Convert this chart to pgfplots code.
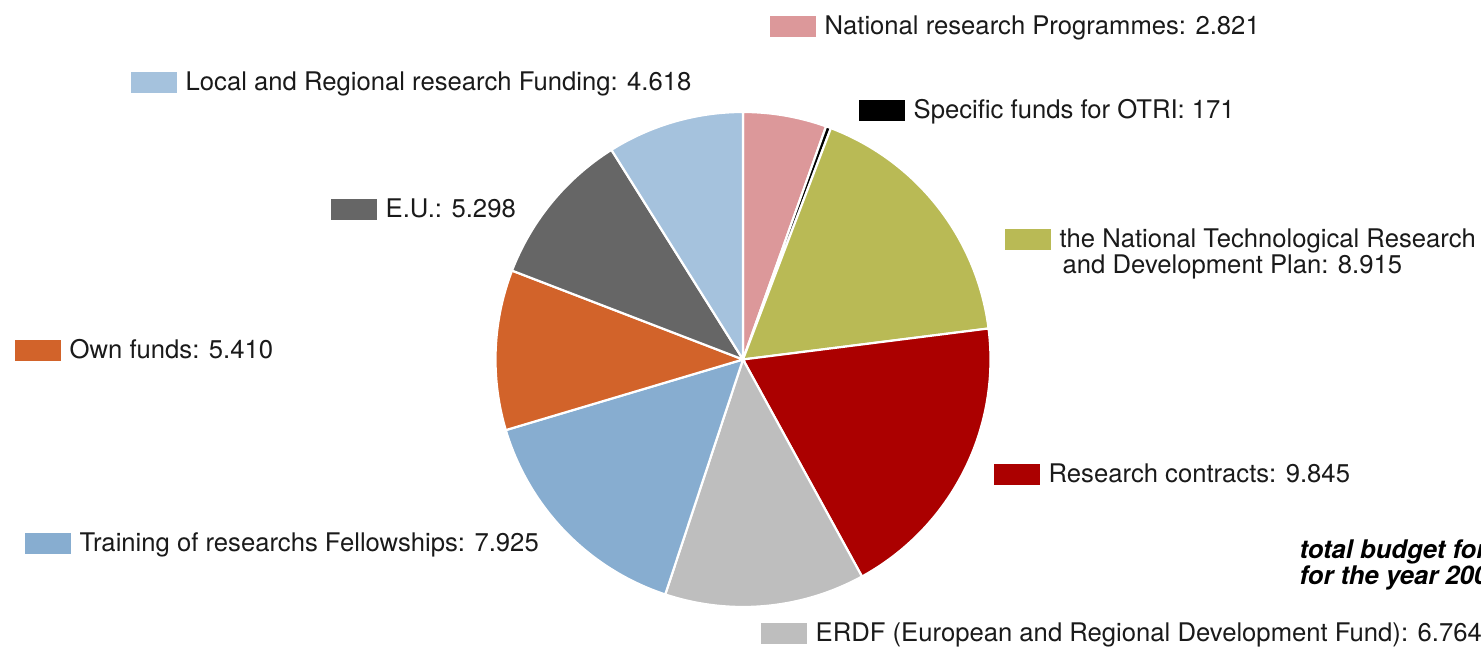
\documentclass[border=0pt]{standalone}
\usepackage{pgfplots}
\pgfplotsset{compat=1.18}
\usepackage{fontspec}
\setmainfont{TeX Gyre Heros}
\definecolor{cNRP}{HTML}{DC989A}
\definecolor{cOTRI}{HTML}{000000}
\definecolor{cPN}{HTML}{B9BA55}
\definecolor{cRC}{HTML}{AB0000}
\definecolor{cERDF}{HTML}{BEBEBE}
\definecolor{cTRF}{HTML}{87ADD0}
\definecolor{cOWN}{HTML}{D2632A}
\definecolor{cEU}{HTML}{666666}
\definecolor{cLRF}{HTML}{A5C2DD}
\definecolor{txt}{HTML}{1A1A1A}
% values (thousands)
\def\vNRP{2.821}\def\vOTRI{0.171}\def\vPN{8.915}\def\vRC{9.845}\def\vERDF{6.764}
\def\vTRF{7.925}\def\vOWN{5.410}\def\vEU{5.298}\def\vLRF{4.618}
\pgfmathsetmacro\tot{\vNRP+\vOTRI+\vPN+\vRC+\vERDF+\vTRF+\vOWN+\vEU+\vLRF}
\pgfmathsetmacro\cA{0}
\pgfmathsetmacro\cB{\cA+\vNRP}
\pgfmathsetmacro\cC{\cB+\vOTRI}
\pgfmathsetmacro\cD{\cC+\vPN}
\pgfmathsetmacro\cE{\cD+\vRC}
\pgfmathsetmacro\cF{\cE+\vERDF}
\pgfmathsetmacro\cG{\cF+\vTRF}
\pgfmathsetmacro\cH{\cG+\vOWN}
\pgfmathsetmacro\cI{\cH+\vEU}
\pgfmathsetmacro\cJ{\cI+\vLRF}
\foreach \k in {A,B,C,D,E,F,G,H,I,J}{%
  \pgfmathsetmacro\tmp{90-360*(\csname c\k\endcsname/\tot)}%
  \global\expandafter\let\csname a\k\endcsname\tmp}
\newcommand{\sw}[1]{\textcolor{#1}{\rule[-0.02cm]{0.46cm}{0.21cm}}\hspace{0.09cm}}
\newcommand{\slice}[3]{%
  \addplot[fill=#1, draw=white, line width=0.022cm, domain=#3:#2, samples=80, variable=\t]
    ({743+247.5*cos(\t)},{287.5+247.5*sin(\t)}) -- (743,287.5) -- cycle;}
\begin{document}
\begin{tikzpicture}[font=\fontsize{7.3pt}{7.4pt}\selectfont, every node/.style={inner sep=0pt, text=txt}]
\begin{axis}[at={(0,0)}, anchor=south west, scale only axis, width=14.81cm, height=6.47cm,
  xmin=0, xmax=1481, ymin=0, ymax=647, hide axis, clip=false]
\slice{cNRP}{\aA}{\aB}
\slice{cOTRI}{\aB}{\aC}
\slice{cPN}{\aC}{\aD}
\slice{cRC}{\aD}{\aE}
\slice{cERDF}{\aE}{\aF}
\slice{cTRF}{\aF}{\aG}
\slice{cOWN}{\aG}{\aH}
\slice{cEU}{\aH}{\aI}
\slice{cLRF}{\aI}{\aJ}
\node[anchor=base west] at (769,{647-35}) {\sw{cNRP}National research Programmes: 2.821};
\node[anchor=base west] at (858,{647-119}) {\sw{cOTRI}Specific funds for OTRI: 171};
\node[anchor=base west] at (1004,{647-248}) {\sw{cPN}the National Technological Research};
\node[anchor=base west] at (1062,{647-274}) {and Development Plan: 8.915};
\node[anchor=base west] at (993,{647-483}) {\sw{cRC}Research contracts: 9.845};
\node[anchor=base west] at (760,{647-642}) {\sw{cERDF}ERDF (European and Regional Development Fund): 6.764};
\node[anchor=base west] at (24,{647-552}) {\sw{cTRF}Training of researchs Fellowships: 7.925};
\node[anchor=base west] at (14,{647-359}) {\sw{cOWN}Own funds: 5.410};
\node[anchor=base west] at (330,{647-218}) {\sw{cEU}E.U.: 5.298};
\node[anchor=base west] at (130,{647-91}) {\sw{cLRF}Local and Regional research Funding: 4.618};
\node[anchor=base west, text=black, font=\fontsize{7.3pt}{7.4pt}\selectfont\bfseries\itshape] at (1299,{647-559}) {total budget for research};
\node[anchor=base west, text=black, font=\fontsize{7.3pt}{7.4pt}\selectfont\bfseries\itshape] at (1299,{647-585}) {for the year 2009};
\end{axis}
\pgfresetboundingbox
\path[use as bounding box] (0,0) rectangle (14.81cm,6.47cm);
\end{tikzpicture}
\end{document}
